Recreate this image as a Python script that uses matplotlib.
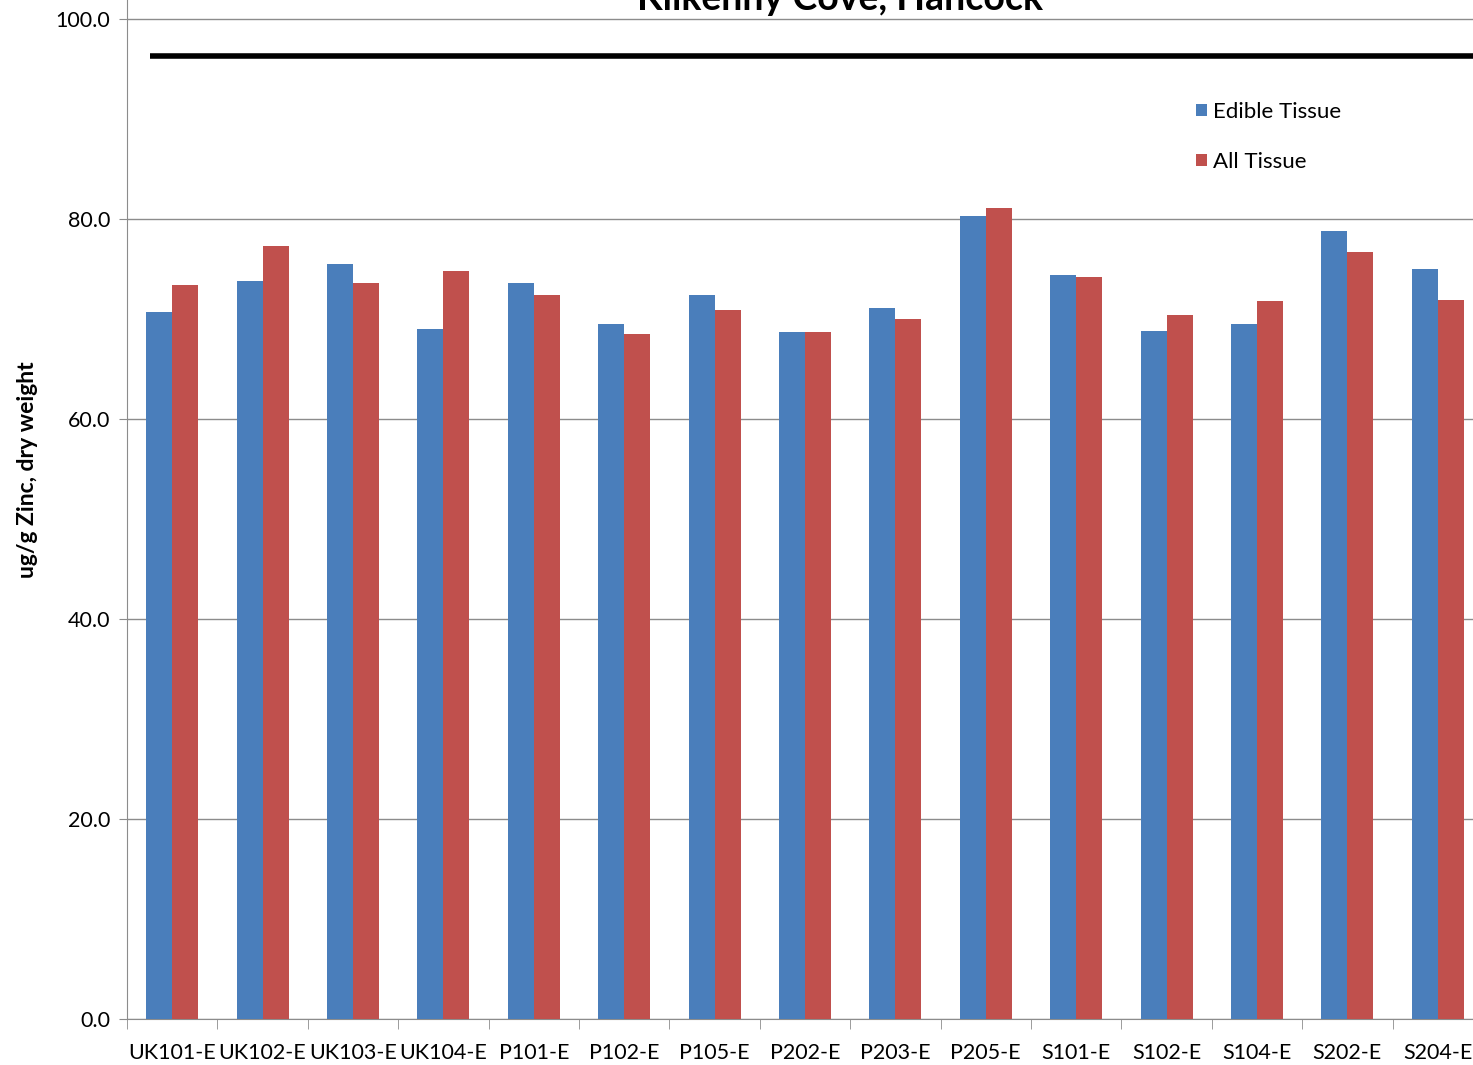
import numpy as np
import matplotlib.pyplot as plt

plt.rcParams['font.family'] = ['Lato', 'DejaVu Sans']

# sample ids and zinc concentrations (ug/g dry weight)
samples = ['UK101-E', 'UK102-E', 'UK103-E', 'UK104-E', 'P101-E', 'P102-E', 'P105-E',
           'P202-E', 'P203-E', 'P205-E', 'S101-E', 'S102-E', 'S104-E', 'S202-E', 'S204-E']
edible = [70.7, 73.8, 75.5, 69.0, 73.6, 69.5, 72.4, 68.7, 71.1, 80.3, 74.4, 68.8, 69.5, 78.8, 75.0]
all_tissue = [73.4, 77.3, 73.6, 74.8, 72.4, 68.5, 70.9, 68.7, 70.0, 81.1, 74.2, 70.4, 71.8, 76.7, 71.9]
reference_level = 96.3
yticks = [0, 20, 40, 60, 80, 100]

W, H = 1473, 1065
fig = plt.figure(figsize=(W / 100, H / 100), dpi=100)
ax = fig.add_axes([127 / W, 46 / H, 1356 / W, 1050 / H])

x = np.arange(len(samples))
bw = 0.288
ax.bar(x - bw / 2, edible, bw, color='#4a7ebb', label='Edible Tissue', zorder=3)
ax.bar(x + bw / 2, all_tissue, bw, color='#c0504d', label='All Tissue', zorder=3)

# reference line across the plot
ax.plot([-0.25, 14.6], [reference_level, reference_level], color='black', lw=4,
        solid_capstyle='butt', zorder=4, clip_on=False)

ax.set_xlim(-0.5, 14.5)
ax.set_ylim(0, 105)
ax.set_yticks(yticks)
ax.set_yticklabels([f'{v:.1f}' for v in yticks], fontsize=15.5)
ax.yaxis.grid(True, color='#8c8c8c', lw=1, zorder=0)

ax.set_xticks(x)
ax.set_xticklabels(samples, fontsize=15.5)
ax.tick_params(axis='x', length=0, pad=17)
ax.set_xticks(np.arange(len(samples) + 1) - 0.5, minor=True)
ax.tick_params(axis='x', which='minor', length=7, color='#8c8c8c')
ax.tick_params(axis='y', length=6, color='#8c8c8c', pad=6)

for s in ['top', 'right']:
    ax.spines[s].set_visible(False)
ax.spines['left'].set_color('#8c8c8c')
ax.spines['bottom'].set_color('#8c8c8c')

ax.set_ylabel('ug/g Zinc, dry weight', fontsize=16.5, fontweight='bold')
ax.yaxis.set_label_coords(-0.066, 0.523)

fig.text(840 / W, 1 - 10 / H, 'Kilkenny Cove, Hancock', fontsize=27, fontweight='bold',
         ha='center', va='baseline')

ax.legend(loc='center left', bbox_to_anchor=(0.788, 0.840),
          frameon=False, fontsize=16, handlelength=0.5, handleheight=0.5,
          handletextpad=0.3, labelspacing=1.35, borderpad=0, borderaxespad=0)

fig.savefig('out.png', dpi=100)
